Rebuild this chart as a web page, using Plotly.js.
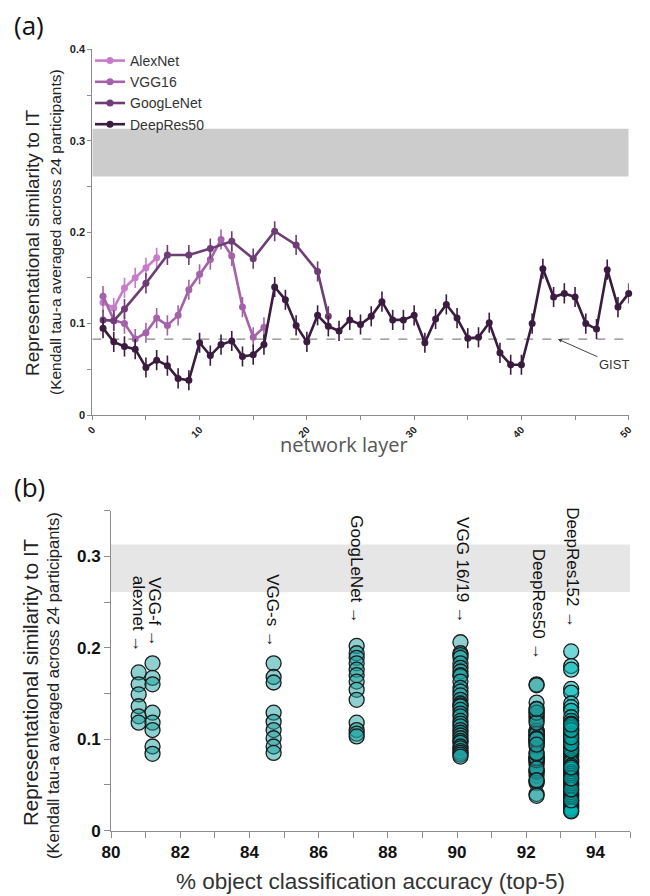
<!DOCTYPE html>
<html>
<head>
<meta charset="utf-8">
<script src="https://cdn.plot.ly/plotly-3.0.1.min.js"></script>
<style>html,body{margin:0;padding:0;background:#fff;}#chart{width:650px;height:896px;}</style>
</head>
<body>
<div id="chart"></div>
<script>
// ---------- Panel (a): similarity to IT per network layer ----------
const layersAlexNet = [1, 2, 3, 4, 5, 6];
const simAlexNet = [0.123, 0.117, 0.139, 0.150, 0.161, 0.172];

const layersVGG16 = [1, 2, 3, 4, 5, 6, 7, 8, 9, 10, 11, 12, 13, 14, 15, 16];
const simVGG16 = [0.130, 0.104, 0.100, 0.083, 0.090, 0.106, 0.098, 0.109, 0.137, 0.154, 0.170, 0.192, 0.174, 0.118, 0.085, 0.096];

const layersGoogLeNet = [1, 2, 3, 5, 7, 9, 11, 13, 15, 17, 19, 21, 22];
const simGoogLeNet = [0.104, 0.103, 0.116, 0.144, 0.175, 0.175, 0.182, 0.190, 0.171, 0.201, 0.186, 0.157, 0.108];

const layersDeepRes50 = [1,2,3,4,5,6,7,8,9,10,11,12,13,14,15,16,17,18,19,20,21,22,23,24,25,26,27,28,29,30,31,32,33,34,35,36,37,38,39,40,41,42,43,44,45,46,47,48,49,50];
const simDeepRes50 = [0.095, 0.080, 0.075, 0.072, 0.052, 0.060, 0.054, 0.040, 0.038, 0.079,
                      0.065, 0.077, 0.081, 0.064, 0.066, 0.077, 0.140, 0.126, 0.098, 0.080,
                      0.109, 0.097, 0.092, 0.104, 0.099, 0.108, 0.124, 0.104, 0.104, 0.109,
                      0.079, 0.105, 0.121, 0.106, 0.084, 0.085, 0.101, 0.068, 0.055, 0.055,
                      0.100, 0.160, 0.129, 0.133, 0.129, 0.100, 0.094, 0.159, 0.118, 0.133];

const seriesNamesA = ['AlexNet', 'VGG16', 'GoogLeNet', 'DeepRes50'];
const gistLevel = 0.083;
const humanBand = [0.261, 0.313];

// ---------- Panel (b): similarity vs classification accuracy ----------
const netsB = ['alexnet', 'VGG-f', 'VGG-s', 'GoogLeNet', 'VGG 16/19', 'DeepRes50', 'DeepRes152'];
const accuracyB = [80.8, 81.2, 84.7, 87.1, 90.1, 92.3, 93.3];
const simAlexnetB = [0.173, 0.160, 0.149, 0.136, 0.125, 0.118];
const simVGGfB = [0.183, 0.167, 0.160, 0.129, 0.118, 0.110, 0.092, 0.084];
const simVGGsB = [0.183, 0.168, 0.162, 0.129, 0.119, 0.110, 0.101, 0.092, 0.085];
const simGoogLeNetB = [0.202, 0.194, 0.189, 0.183, 0.176, 0.170, 0.163, 0.154, 0.143, 0.118, 0.110, 0.106, 0.103];
const simVGG1619B = [0.206, 0.194, 0.192, 0.189, 0.183, 0.178, 0.174, 0.170, 0.169, 0.163, 0.156, 0.152, 0.148, 0.143, 0.139,
                     0.137, 0.136, 0.132, 0.128, 0.125, 0.120, 0.117, 0.114, 0.110, 0.107, 0.104, 0.101, 0.098, 0.096,
                     0.092, 0.090, 0.087, 0.085, 0.083, 0.081];
const simDeepRes50B = simDeepRes50;
const simDeepRes152B = [0.196, 0.180, 0.176, 0.155, 0.151, 0.139, 0.135, 0.131, 0.124, 0.120, 0.117, 0.114, 0.112, 0.109,
                        0.106, 0.104, 0.101, 0.099, 0.097, 0.094, 0.092, 0.090, 0.087, 0.085, 0.083, 0.081, 0.078, 0.076,
                        0.074, 0.071, 0.069, 0.067, 0.064, 0.062, 0.060, 0.058, 0.055, 0.053, 0.051, 0.049, 0.047, 0.044,
                        0.042, 0.040, 0.038, 0.036, 0.034, 0.032, 0.030, 0.028, 0.026, 0.024, 0.022, 0.021, 0.033, 0.045,
                        0.057, 0.069, 0.088, 0.095, 0.102, 0.110, 0.116];
const valuesB = [simAlexnetB, simVGGfB, simVGGsB, simGoogLeNetB, simVGG1619B, simDeepRes50B, simDeepRes152B];

// ---------- styles ----------
const W = 650, H = 896;
const colorsA = ['#c77ccb', '#a463a9', '#6f3d75', '#3a1c3f'];
const FONT = '"Liberation Sans", Arial, sans-serif';
const FONT2 = '"Open Sans", sans-serif';

const dataA = [
  [layersAlexNet, simAlexNet],
  [layersVGG16, simVGG16],
  [layersGoogLeNet, simGoogLeNet],
  [layersDeepRes50, simDeepRes50]
];

const traces = dataA.map((d, i) => ({
  type: 'scatter', mode: 'lines+markers',
  x: d[0], y: d[1], name: seriesNamesA[i],
  xaxis: 'x', yaxis: 'y',
  line: {color: colorsA[i], width: 2.6},
  marker: {color: colorsA[i], size: 7},
  error_y: {type: 'constant', value: 0.011, color: colorsA[i], thickness: 1.6, width: 0},
  cliponaxis: false
}));

valuesB.forEach((vals, i) => {
  const isR152 = netsB[i] === 'DeepRes152';
  traces.push({
    type: 'scatter', mode: 'markers',
    x: vals.map(() => accuracyB[i]), y: vals, name: netsB[i],
    xaxis: 'x2', yaxis: 'y2', showlegend: false,
    marker: {
      size: 15,
      color: isR152 ? 'rgba(0,182,182,0.55)' : 'rgba(30,160,160,0.5)',
      line: {color: '#1b1b1b', width: 1.3}
    },
    cliponaxis: false
  });
});

const px = x => x / W;
const py = y => (H - y) / H;

const axisCommon = {
  showline: true, linecolor: '#8c8c8c', linewidth: 1,
  ticks: 'outside', tickcolor: '#8c8c8c', tickwidth: 1,
  showgrid: false, zeroline: false, automargin: false, fixedrange: true
};

// label positions for panel (b) column annotations (layout only)
const labelPosB = [
  {x: 80.78, y: 0.236}, {x: 81.27, y: 0.239}, {x: 84.68, y: 0.240},
  {x: 87.10, y: 0.285}, {x: 90.14, y: 0.284}, {x: 92.34, y: 0.247}, {x: 93.35, y: 0.287}
];

const annotations = [
  {text: '(a)', xref: 'paper', yref: 'paper', x: px(12), y: py(25), xanchor: 'left', yanchor: 'middle',
   showarrow: false, font: {family: FONT2, size: 26, color: '#111'}},
  {text: '(b)', xref: 'paper', yref: 'paper', x: px(12), y: py(487), xanchor: 'left', yanchor: 'middle',
   showarrow: false, font: {family: FONT2, size: 26, color: '#111'}},
  {text: 'network layer', xref: 'paper', yref: 'paper', x: px(344), y: py(444), xanchor: 'center', yanchor: 'middle',
   showarrow: false, font: {family: FONT2, size: 20, color: '#555'}},
  {text: 'Representational similarity to IT', xref: 'paper', yref: 'paper', x: px(33), y: py(243),
   textangle: -90, showarrow: false, xanchor: 'center', yanchor: 'middle',
   font: {family: FONT, size: 19, color: '#222'}},
  {text: '(Kendall tau-a averaged across 24 participants)', xref: 'paper', yref: 'paper', x: px(56), y: py(232),
   textangle: -90, showarrow: false, xanchor: 'center', yanchor: 'middle',
   font: {family: FONT, size: 15.5, color: '#222'}},
  {text: 'Representational similarity to IT', xref: 'paper', yref: 'paper', x: px(30), y: py(682),
   textangle: -90, showarrow: false, xanchor: 'center', yanchor: 'middle',
   font: {family: FONT, size: 20.5, color: '#222'}},
  {text: '(Kendall tau-a averaged across 24 participants)', xref: 'paper', yref: 'paper', x: px(53), y: py(686),
   textangle: -90, showarrow: false, xanchor: 'center', yanchor: 'middle',
   font: {family: FONT, size: 16.5, color: '#222'}},
  {text: 'GIST', xref: 'x', yref: 'y', x: 43.4, y: gistLevel, ax: 56, ay: 25,
   showarrow: true, arrowhead: 2, arrowsize: 0.8, arrowwidth: 1, arrowcolor: '#444',
   font: {family: FONT, size: 13, color: '#333'}}
];
netsB.forEach((n, i) => {
  annotations.push({
    text: n + ' \u2192', xref: 'x2', yref: 'y2', x: labelPosB[i].x, y: labelPosB[i].y,
    textangle: 90, showarrow: false, xanchor: 'center', yanchor: 'middle',
    font: {family: FONT, size: 17, color: '#111'}
  });
});

const layout = {
  width: W, height: H,
  margin: {l: 0, r: 0, t: 0, b: 0},
  paper_bgcolor: '#ffffff', plot_bgcolor: 'rgba(0,0,0,0)',
  font: {family: FONT, color: '#222'},
  showlegend: true,
  legend: {x: px(90), y: py(45), xanchor: 'left', yanchor: 'top', bgcolor: 'rgba(0,0,0,0)',
           font: {family: FONT, size: 14, color: '#333'}, tracegroupgap: 0},
  xaxis: Object.assign({}, axisCommon, {
    domain: [px(92.3), px(628.7)], anchor: 'y', range: [0, 50],
    tick0: 0, dtick: 10, ticklen: 4, tickangle: -45,
    tickfont: {family: FONT, size: 10, weight: 'bold', color: '#222'},
    minor: {dtick: 5, ticks: 'outside', ticklen: 4, tickcolor: '#8c8c8c'}
  }),
  yaxis: Object.assign({}, axisCommon, {
    domain: [py(415), py(49.3)], anchor: 'x', range: [0, 0.4],
    tick0: 0, dtick: 0.1, ticklen: 4,
    tickfont: {family: FONT, size: 11, weight: 'bold', color: '#222'},
    minor: {dtick: 0.05, ticks: 'outside', ticklen: 4, tickcolor: '#8c8c8c'}
  }),
  xaxis2: Object.assign({}, axisCommon, {
    domain: [px(111), px(630)], anchor: 'y2', range: [80, 95],
    tick0: 80, dtick: 2, ticklen: 6,
    tickfont: {family: FONT, size: 17, weight: 'bold', color: '#111'},
    minor: {dtick: 1, ticks: 'outside', ticklen: 6, tickcolor: '#8c8c8c'},
    title: {text: '% object classification accuracy (top-5)', standoff: 12,
            font: {family: FONT, size: 22.5, color: '#333'}}
  }),
  yaxis2: Object.assign({}, axisCommon, {
    domain: [py(830.6), py(510.6)], anchor: 'x2', range: [0, 0.35],
    tick0: 0, dtick: 0.1, ticklen: 6,
    tickfont: {family: FONT, size: 17, weight: 'bold', color: '#111'},
    minor: {dtick: 0.05, ticks: 'outside', ticklen: 6, tickcolor: '#8c8c8c'}
  }),
  shapes: [
    {type: 'rect', xref: 'x', yref: 'y', x0: 0, x1: 50, y0: humanBand[0], y1: humanBand[1],
     fillcolor: '#cccccc', line: {width: 0}, layer: 'below'},
    {type: 'line', xref: 'x', yref: 'y', x0: 0, x1: 50, y0: gistLevel, y1: gistLevel,
     line: {color: '#888888', width: 1.3, dash: 'dash'}, layer: 'below'},
    {type: 'rect', xref: 'x2', yref: 'y2', x0: 80, x1: 95, y0: humanBand[0], y1: humanBand[1],
     fillcolor: '#e6e6e6', line: {width: 0}, layer: 'below'}
  ],
  annotations: annotations
};

Plotly.newPlot('chart', traces, layout, {displayModeBar: false, staticPlot: true});
</script>
</body>
</html>
